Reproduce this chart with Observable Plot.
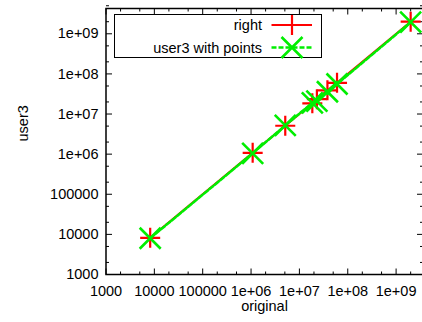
<!DOCTYPE html>
<html>
<head>
<meta charset="utf-8">
<script src="https://cdn.jsdelivr.net/npm/d3@7"></script>
<script src="https://cdn.jsdelivr.net/npm/@observablehq/plot@0.6"></script>
<style>
  html, body { margin: 0; padding: 0; overflow: hidden; background: #fff; }
  #wrap { position: relative; width: 422px; height: 322px; overflow: hidden; }
  #wrap svg { position: absolute; left: 0; top: 0; max-width: none !important; }
</style>
</head>
<body>
<div id="wrap"></div>
<script>
// ---- data ----
const original = [8200, 1.08e6, 5.1e6, 1.85e7, 2.3e7, 3.8e7, 6.0e7, 2.0e9];
const right    = [8200, 1.08e6, 5.1e6, 1.85e7, 2.35e7, 3.9e7, 6.0e7, 2.0e9];
const user3    = [8000, 1.05e6, 5.2e6, 1.9e7, 2.1e7, 3.6e7, 5.6e7, 1.96e9];
const majorTicks = [1e3, 1e4, 1e5, 1e6, 1e7, 1e8, 1e9];
const majorLabels = ["1000", "10000", "100000", "1e+06", "1e+07", "1e+08", "1e+09"];
const minorMultipliers = [2, 5];
const seriesNames = ["right", "user3 with points"];
const seriesColors = ["#ff0000", "#00ee00"];
const xTitle = "original";
const yTitle = "user3";

const minorTicks = [];
for (let d = 1e3; d <= 1e9; d *= 10) for (const m of minorMultipliers) minorTicks.push(d * m);
const labelOf = v => majorLabels[majorTicks.indexOf(v)] ?? "";

const rowsRight = original.map((x, i) => ({x, y: right[i]}));
const rowsUser = original.map((x, i) => ({x, y: user3[i]}));

const font = "Liberation Sans, Arial, Helvetica, sans-serif";

// inward tick glyphs (custom symbols), dx/dy direction with given length
const tickSym = (dx, dy) => ({draw(context) { context.moveTo(0, 0); context.lineTo(dx, dy); }});

function ticks(values, len) {
  const common = {r: 3, fill: "none", stroke: "#000", strokeWidth: 1};
  return [
    Plot.dot(values, {...common, x: d => d, frameAnchor: "bottom", symbol: tickSym(0, -len)}),
    Plot.dot(values, {...common, x: d => d, frameAnchor: "top", symbol: tickSym(0, len)}),
    Plot.dot(values, {...common, y: d => d, frameAnchor: "left", symbol: tickSym(len, 0)}),
    Plot.dot(values, {...common, y: d => d, frameAnchor: "right", symbol: tickSym(-len, 0)})
  ];
}

const chart = Plot.plot({
  width: 430,
  height: 322,
  marginLeft: 105.5,
  marginRight: 7.5,
  marginTop: 8,
  marginBottom: 48,
  style: {fontFamily: font, fontSize: "14.5px", color: "#000", background: "transparent", overflow: "visible"},
  x: {type: "log", domain: [1000, 3.6e9]},
  y: {type: "log", domain: [1000, 4.27e9]},
  marks: [
    Plot.axisX({anchor: "bottom", ticks: majorTicks, tickSize: 0, tickPadding: 11, tickFormat: labelOf, label: null}),
    Plot.axisY({anchor: "left", ticks: majorTicks, tickSize: 0, tickPadding: 7.5, tickFormat: labelOf, label: null}),
    ...ticks(majorTicks, 6),
    ...ticks(minorTicks, 3),
    Plot.frame({stroke: "#000", strokeWidth: 1.5}),
    // series
    Plot.line(rowsRight, {x: "x", y: "y", stroke: seriesColors[0], strokeWidth: 2}),
    Plot.dot(rowsRight, {x: "x", y: "y", symbol: "plus", r: 6.5, stroke: seriesColors[0], strokeWidth: 2.2}),
    Plot.line(rowsUser, {x: "x", y: "y", stroke: seriesColors[1], strokeWidth: 2.6, strokeDasharray: "5,2"}),
    Plot.dot(rowsUser, {x: "x", y: "y", symbol: "times", r: 9.6, stroke: seriesColors[1], strokeWidth: 2.6}),
    // titles
    Plot.text([xTitle], {frameAnchor: "bottom", text: d => d, dy: 36, fill: "#000"}),
    Plot.text([yTitle], {frameAnchor: "left", text: d => d, dx: -82.5, rotate: -90, fill: "#000"})
  ]
});
chart.style.maxWidth = "none";
chart.style.width = "430px";
chart.style.height = "322px";
document.getElementById("wrap").appendChild(chart);

// ---- legend overlay ----
const leg = d3.select("#wrap").append("svg")
  .attr("width", 422).attr("height", 322)
  .style("font-family", font).style("font-size", "14.5px");
leg.append("rect").attr("x", 114.5).attr("y", 14.5).attr("width", 207).attr("height", 43)
  .attr("fill", "#fff").attr("stroke", "#000").attr("stroke-width", 1);
const rowsY = [25, 47.5];
seriesNames.forEach((name, i) => {
  const y = rowsY[i];
  leg.append("text").attr("x", 262).attr("y", y).attr("text-anchor", "end")
    .attr("dy", "0.35em").attr("fill", "#000").text(name);
  leg.append("line").attr("x1", 271.5).attr("x2", 312).attr("y1", y).attr("y2", y)
    .attr("stroke", seriesColors[i]).attr("stroke-width", i ? 2.6 : 2)
    .attr("stroke-dasharray", i ? "5,2" : null);
  const sym = d3.symbol(i ? d3.symbolTimes : d3.symbolPlus, Math.PI * (i ? 9.6 : 6.5) ** 2)();
  leg.append("path").attr("d", sym).attr("transform", `translate(292,${y})`)
    .attr("fill", "none").attr("stroke", seriesColors[i]).attr("stroke-width", i ? 2.6 : 2.2);
});
</script>
</body>
</html>
